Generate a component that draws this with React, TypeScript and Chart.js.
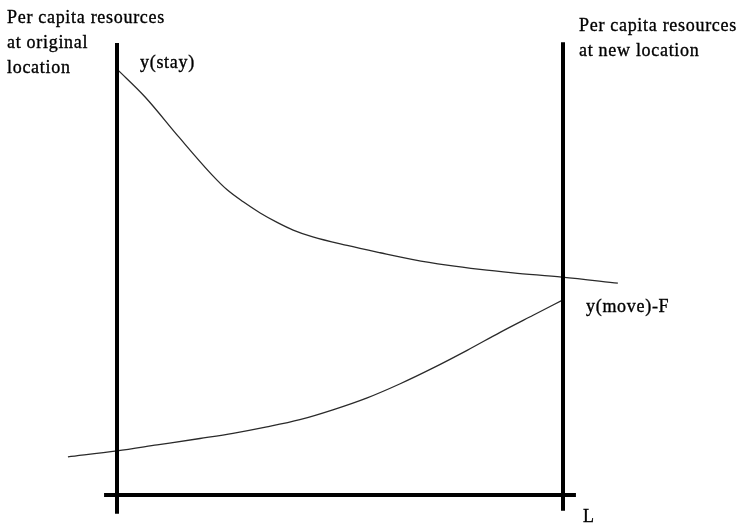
import React, { useEffect, useRef } from "react";
import { Chart, registerables } from "chart.js";

Chart.register(...registerables);

// Conceptual diagram: x = population moved (0 .. L = 100), y = per-capita resources
const stayX = [0, 6.3, 13.9, 21.3, 24.7, 28.3, 32.1, 35.9, 39.5, 43.9, 51.6, 59.0, 66.4, 74.0, 81.4, 88.8, 99.8, 112.3];
const stayY = [99.5, 93.0, 83.6, 74.8, 71.3, 68.5, 65.9, 63.7, 61.9, 60.3, 58.3, 56.6, 55.0, 53.7, 52.7, 51.9, 50.9, 49.5];

const moveX = [-11.0, 0, 9.0, 18.6, 26.0, 33.6, 41.0, 48.4, 56.1, 63.5, 70.9, 78.5, 85.9, 93.3, 100];
const moveY = [8.9, 10.3, 11.7, 13.2, 14.4, 15.9, 17.6, 19.9, 22.7, 26.0, 29.7, 33.8, 38.0, 42.0, 45.6];

// axes of the diagram
const leftAxisX = [0, 0];
const leftAxisY = [105.6, -4.4];
const rightAxisX = [100, 100];
const rightAxisY = [105.8, -3.7];
const baseAxisX = [-2.9, 102.9];
const baseAxisY = [0, 0];

const leftTitle = ["Per capita resources", "at original", "location"];
const rightTitle = ["Per capita resources", "at new location"];
const stayLabel = "y(stay)";
const moveLabel = "y(move)-F";
const lLabel = "L";

const toPts = (xs: number[], ys: number[]) => xs.map((x, i) => ({ x, y: ys[i] }));

export default function App() {
  const ref = useRef<HTMLCanvasElement | null>(null);
  useEffect(() => {
    if (!ref.current) return;
    const textPlugin = {
      id: "diagramText",
      afterDraw(chart: any) {
        const { ctx } = chart;
        const xs = chart.scales.x;
        const ys = chart.scales.y;
        ctx.save();
        ctx.fillStyle = "#000";
        ctx.strokeStyle = "#000";
        ctx.lineWidth = 0.35;
        ctx.font = "18px 'Liberation Serif', 'Times New Roman', serif";
        try { (ctx as any).letterSpacing = "0.7px"; } catch (e) {}
        ctx.textBaseline = "alphabetic";
        ctx.textAlign = "left";
        const put = (t: string, x: number, y: number) => { ctx.fillText(t, x, y); ctx.strokeText(t, x, y); };
        const lx = xs.getPixelForValue(0);
        const rx = xs.getPixelForValue(100);
        const top = ys.getPixelForValue(leftAxisY[0]);
        leftTitle.forEach((t, i) => put(t, lx - 110, top - 20 + i * 24.8));
        rightTitle.forEach((t, i) => put(t, rx + 16, top - 12 + i * 24.8));
        put(stayLabel, lx + 23, ys.getPixelForValue(stayY[0]) - 1);
        put(moveLabel, rx + 23, ys.getPixelForValue(moveY[moveY.length - 1]) + 12);
        put(lLabel, rx + 20, ys.getPixelForValue(0) + 27);
        ctx.restore();
      },
    };
    const thin = { borderColor: "#2a2a2a", borderWidth: 1.3, pointRadius: 0, showLine: true, tension: 0.4, cubicInterpolationMode: "monotone" as const };
    const thick = { borderColor: "#000", borderWidth: 4, pointRadius: 0, showLine: true, tension: 0 };
    const chart = new Chart(ref.current, {
      type: "scatter",
      data: {
        datasets: [
          { label: "left axis", data: toPts(leftAxisX, leftAxisY), ...thick },
          { label: "right axis", data: toPts(rightAxisX, rightAxisY), ...thick },
          { label: "L axis", data: toPts(baseAxisX, baseAxisY), ...thick },
          { label: stayLabel, data: toPts(stayX, stayY), ...thin },
          { label: moveLabel, data: toPts(moveX, moveY), ...thin },
        ],
      },
      options: {
        responsive: false,
        animation: false,
        layout: { padding: 0 },
        plugins: { legend: { display: false }, tooltip: { enabled: false } },
        scales: {
          x: { type: "linear", display: false, min: -117 / 4.46, max: (738 - 117) / 4.46 },
          y: { type: "linear", display: false, min: -(524 - 495) / 4.28, max: 495 / 4.28 },
        },
      },
      plugins: [textPlugin],
    });
    return () => chart.destroy();
  }, []);
  return (
    <div style={{ position: "absolute", left: 0, top: 0, width: 738, height: 524, background: "#fff" }}>
      <canvas ref={ref} width={738} height={524} />
    </div>
  );
}
